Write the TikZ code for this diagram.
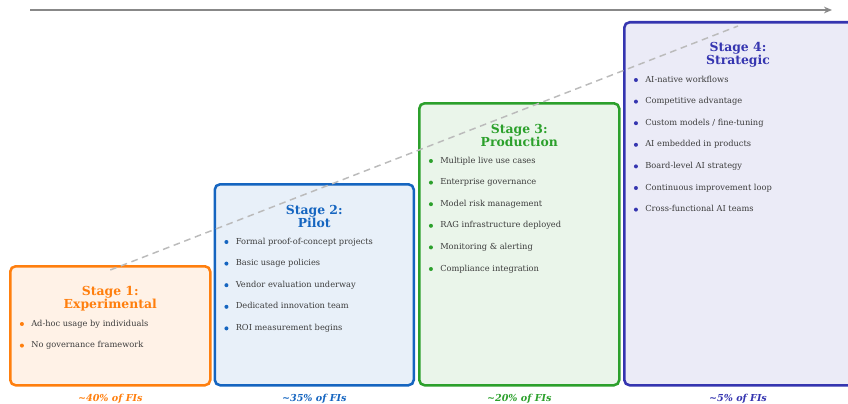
\documentclass[tikz,border=0pt]{standalone}
\usepackage{fontspec}
\setmainfont{DejaVu Serif}
\usetikzlibrary{calc,positioning,arrows.meta}

\definecolor{expcol}{HTML}{FF7F0E}
\definecolor{pilcol}{HTML}{1565C0}
\definecolor{prodcol}{HTML}{2CA02C}
\definecolor{stratcol}{HTML}{3535B0}
\definecolor{itemgray}{HTML}{3C3C3C}
\definecolor{axisgray}{HTML}{888888}
\definecolor{trendgray}{HTML}{BBBBBB}

\def\px{0.75pt}

\tikzset{
  stagebox/.style={draw=#1, fill=#1!10, line width=1.9pt, rounded corners=4pt,
    inner sep=0pt, anchor=north west},
  stagetitle/.style={text=#1, font=\bfseries\fontsize{9.3}{9.8}\selectfont,
    align=center, inner sep=0pt},
  item/.style={text=itemgray, font=\fontsize{6.2}{7}\selectfont, anchor=west,
    inner sep=0pt, text height=4.5pt, text depth=1.3pt,
    append after command={\pgfextra{\fill[#1] ([xshift=-6.8pt]\tikzlastnode.west) circle[radius=1.5pt];}}},
  next/.style={below=16.2pt of #1.west, anchor=west},
  share/.style={text=#1, font=\bfseries\itshape\fontsize{7.2}{8}\selectfont, inner sep=0pt},
}

\begin{document}
\begin{tikzpicture}[x=\px, y=-\px]
  \useasboundingbox (0,0) rectangle (848,403);
  \clip (0,0) rectangle (848,403);

  % the four stage boxes, climbing to the right
  \node[stagebox=expcol, minimum width=200*\px, minimum height=119*\px] (s1) at (9,265) {};
  \node[stagebox=pilcol, minimum width=199*\px, minimum height=201*\px] (s2) at (213.5,183) {};
  \node[stagebox=prodcol, minimum width=200*\px, minimum height=282*\px] (s3) at (418,102) {};
  \node[stagebox=stratcol, minimum width=250*\px, minimum height=363*\px] (s4) at (623,21) {};

  % maturity axis and trend line
  \coordinate (axisstart) at (30,10);
  \coordinate (axisend) at (832,10);
  \draw[axisgray, line width=1.5pt, -{Stealth[length=6pt, width=5pt]}] (axisstart) -- (axisend);
  \draw[trendgray, line width=1.1pt, dash pattern=on 5pt off 3.5pt]
    ($(s1.north)+(0,5)$) -- ($(s4.north west)+(115,5)$);

  % stage 1
  \node[stagetitle=expcol] (t1) at ([yshift=-33.5*\px]s1.north) {Stage 1:\\Experimental};
  \node[item=expcol] (s1i1) at ([xshift=22*\px, yshift=-59*\px]s1.north west) {Ad-hoc usage by individuals};
  \node[item=expcol, next=s1i1] (s1i2) {No governance framework};
  \node[share=expcol] (p1) at ([yshift=-12*\px]s1.south) {\textasciitilde40\% of FIs};

  % stage 2
  \node[stagetitle=pilcol] (t2) at ([yshift=-33.5*\px]s2.north) {Stage 2:\\Pilot};
  \node[item=pilcol] (s2i1) at ([xshift=22*\px, yshift=-59*\px]s2.north west) {Formal proof-of-concept projects};
  \node[item=pilcol, next=s2i1] (s2i2) {Basic usage policies};
  \node[item=pilcol, next=s2i2] (s2i3) {Vendor evaluation underway};
  \node[item=pilcol, next=s2i3] (s2i4) {Dedicated innovation team};
  \node[item=pilcol, next=s2i4] (s2i5) {ROI measurement begins};
  \node[share=pilcol] (p2) at ([yshift=-12*\px]s2.south) {\textasciitilde35\% of FIs};

  % stage 3
  \node[stagetitle=prodcol] (t3) at ([yshift=-33.5*\px]s3.north) {Stage 3:\\Production};
  \node[item=prodcol] (s3i1) at ([xshift=22*\px, yshift=-59*\px]s3.north west) {Multiple live use cases};
  \node[item=prodcol, next=s3i1] (s3i2) {Enterprise governance};
  \node[item=prodcol, next=s3i2] (s3i3) {Model risk management};
  \node[item=prodcol, next=s3i3] (s3i4) {RAG infrastructure deployed};
  \node[item=prodcol, next=s3i4] (s3i5) {Monitoring \& alerting};
  \node[item=prodcol, next=s3i5] (s3i6) {Compliance integration};
  \node[share=prodcol] (p3) at ([yshift=-12*\px]s3.south) {\textasciitilde20\% of FIs};

  % stage 4 runs past the right edge
  \node[stagetitle=stratcol] (t4) at ([xshift=115*\px, yshift=-33.5*\px]s4.north west) {Stage 4:\\Strategic};
  \node[item=stratcol] (s4i1) at ([xshift=22*\px, yshift=-59*\px]s4.north west) {AI-native workflows};
  \node[item=stratcol, next=s4i1] (s4i2) {Competitive advantage};
  \node[item=stratcol, next=s4i2] (s4i3) {Custom models / fine-tuning};
  \node[item=stratcol, next=s4i3] (s4i4) {AI embedded in products};
  \node[item=stratcol, next=s4i4] (s4i5) {Board-level AI strategy};
  \node[item=stratcol, next=s4i5] (s4i6) {Continuous improvement loop};
  \node[item=stratcol, next=s4i6] (s4i7) {Cross-functional AI teams};
  \node[share=stratcol] (p4) at ([xshift=115*\px, yshift=-12*\px]s4.south west) {\textasciitilde5\% of FIs};
\end{tikzpicture}
\end{document}
